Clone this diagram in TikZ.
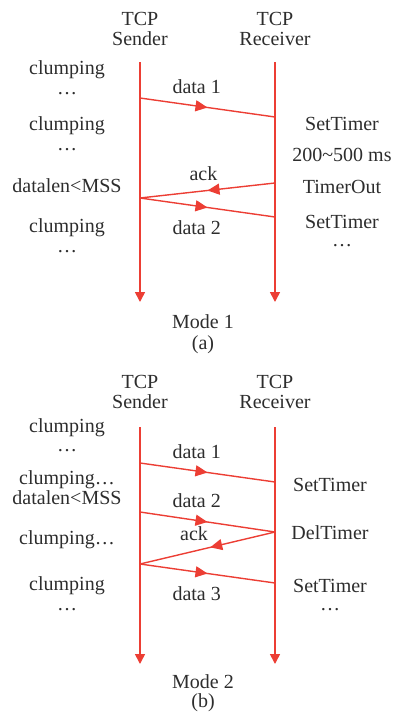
\documentclass[tikz,border=0pt]{standalone}
\usepackage{fontspec}
\setmainfont{Liberation Serif}
\usetikzlibrary{arrows.meta,decorations.markings}
\definecolor{msgred}{RGB}{236,62,52}
\definecolor{txtgray}{RGB}{45,45,45}

\tikzset{
	lifeline/.style={draw=msgred, color=msgred, line width=0.8pt, -{Triangle[length=5pt,width=5pt]}},
	msg/.style={draw=msgred, color=msgred, line width=0.7pt, postaction={decorate},
		decoration={markings, mark=at position #1 with {\arrow{Triangle[length=6pt,width=5.5pt]}}}},
	msg/.default=0.5,
	lbl/.style={text=txtgray, inner sep=0pt, font=\fontsize{10}{10}\selectfont, align=center},
}

\begin{document}
\begin{tikzpicture}[x=0.5pt,y=-0.5pt]
	\useasboundingbox (0,0) rectangle (394,713);
	
	% Mode 1: receiver answers only after the timer runs out
	\begin{scope}
		\node[lbl] (sndA) at (140,29) {TCP\\Sender};
		\node[lbl] (rcvA) at (275,29) {TCP\\Receiver};
		
		% lifelines
		\coordinate (sA0) at (140,62);
		\coordinate (sA9) at (140,302);
		\coordinate (rA0) at (275,62);
		\coordinate (rA9) at (275,302);
		\draw[lifeline] (sA0) -- (sA9);
		\draw[lifeline] (rA0) -- (rA9);
		
		% points where the messages meet the lifelines
		\coordinate (sA1) at (140,98);
		\coordinate (rA1) at (275,117);
		\coordinate (rA2) at (275,183);
		\coordinate (sA2) at (140,198);
		\coordinate (rA3) at (275,217);
		
		\draw[msg] (sA1) -- (rA1) node[lbl, pos=0.42, above=6pt] (dA1) {data 1};
		\draw[msg] (rA2) -- (sA2) node[lbl, pos=0.53, above=5pt] (ackA) {ack};
		\draw[msg] (sA2) -- (rA3) node[lbl, pos=0.42, below=7pt] (dA2) {data 2};
		
		% sender side
		\node[lbl] (cA1) at (67,70) {clumping};
		\node[lbl] (eA1) at (67,94) {\ldots};
		\node[lbl] (cA2) at (67,126) {clumping};
		\node[lbl] (eA2) at (67,150) {\ldots};
		\node[lbl] (lenA) at (67,186) {datalen<MSS};
		\node[lbl] (cA3) at (67,228) {clumping};
		\node[lbl] (eA3) at (67,252) {\ldots};
		
		% receiver side
		\node[lbl] (stA1) at (342,124) {SetTimer};
		\node[lbl] (tmA) at (342,155) {200\textasciitilde500 ms};
		\node[lbl] (toA) at (342,187) {TimerOut};
		\node[lbl] (stA2) at (342,222) {SetTimer};
		\node[lbl] (eA4) at (342,246) {\ldots};
		
		\node[lbl] (modeA) at (203,322) {Mode 1};
		\node[lbl] (capA) at (203,345) {(a)};
	\end{scope}
	
	% Mode 2: a short segment makes the receiver drop its timer
	\begin{scope}[yshift=-180pt]
		\node[lbl] (sndB) at (140,32) {TCP\\Sender};
		\node[lbl] (rcvB) at (275,32) {TCP\\Receiver};
		
		% lifelines
		\coordinate (sB0) at (140,67);
		\coordinate (sB9) at (140,304);
		\coordinate (rB0) at (275,67);
		\coordinate (rB9) at (275,304);
		\draw[lifeline] (sB0) -- (sB9);
		\draw[lifeline] (rB0) -- (rB9);
		
		% points where the messages meet the lifelines
		\coordinate (sB1) at (140,103);
		\coordinate (rB1) at (275,122);
		\coordinate (sB2) at (140,152);
		\coordinate (rB2) at (275,172);
		\coordinate (sB3) at (140,204);
		\coordinate (rB3) at (275,223);
		
		\draw[msg] (sB1) -- (rB1) node[lbl, pos=0.42, above=6pt] (dB1) {data 1};
		\draw[msg] (sB2) -- (rB2) node[lbl, pos=0.42, above=6pt] (dB2) {data 2};
		\draw[msg=0.48] (rB2) -- (sB3) node[lbl, pos=0.6, above=5pt] (ackB) {ack};
		\draw[msg] (sB3) -- (rB3) node[lbl, pos=0.42, below=7pt] (dB3) {data 3};
		
		% sender side
		\node[lbl] (cB1) at (67,68) {clumping};
		\node[lbl] (eB1) at (67,91) {\ldots};
		\node[lbl] (cB2) at (67,120) {clumping\ldots};
		\node[lbl] (lenB) at (67,138) {datalen<MSS};
		\node[lbl] (cB3) at (67,180) {clumping\ldots};
		\node[lbl] (cB4) at (67,226) {clumping};
		\node[lbl] (eB4) at (67,250) {\ldots};
		
		% receiver side
		\node[lbl] (stB1) at (330,125) {SetTimer};
		\node[lbl] (dtB) at (330,173) {DelTimer};
		\node[lbl] (stB2) at (330,226) {SetTimer};
		\node[lbl] (eB5) at (330,250) {\ldots};
		
		\node[lbl] (modeB) at (203,322) {Mode 2};
		\node[lbl] (capB) at (203,343) {(b)};
	\end{scope}
\end{tikzpicture}
\end{document}
